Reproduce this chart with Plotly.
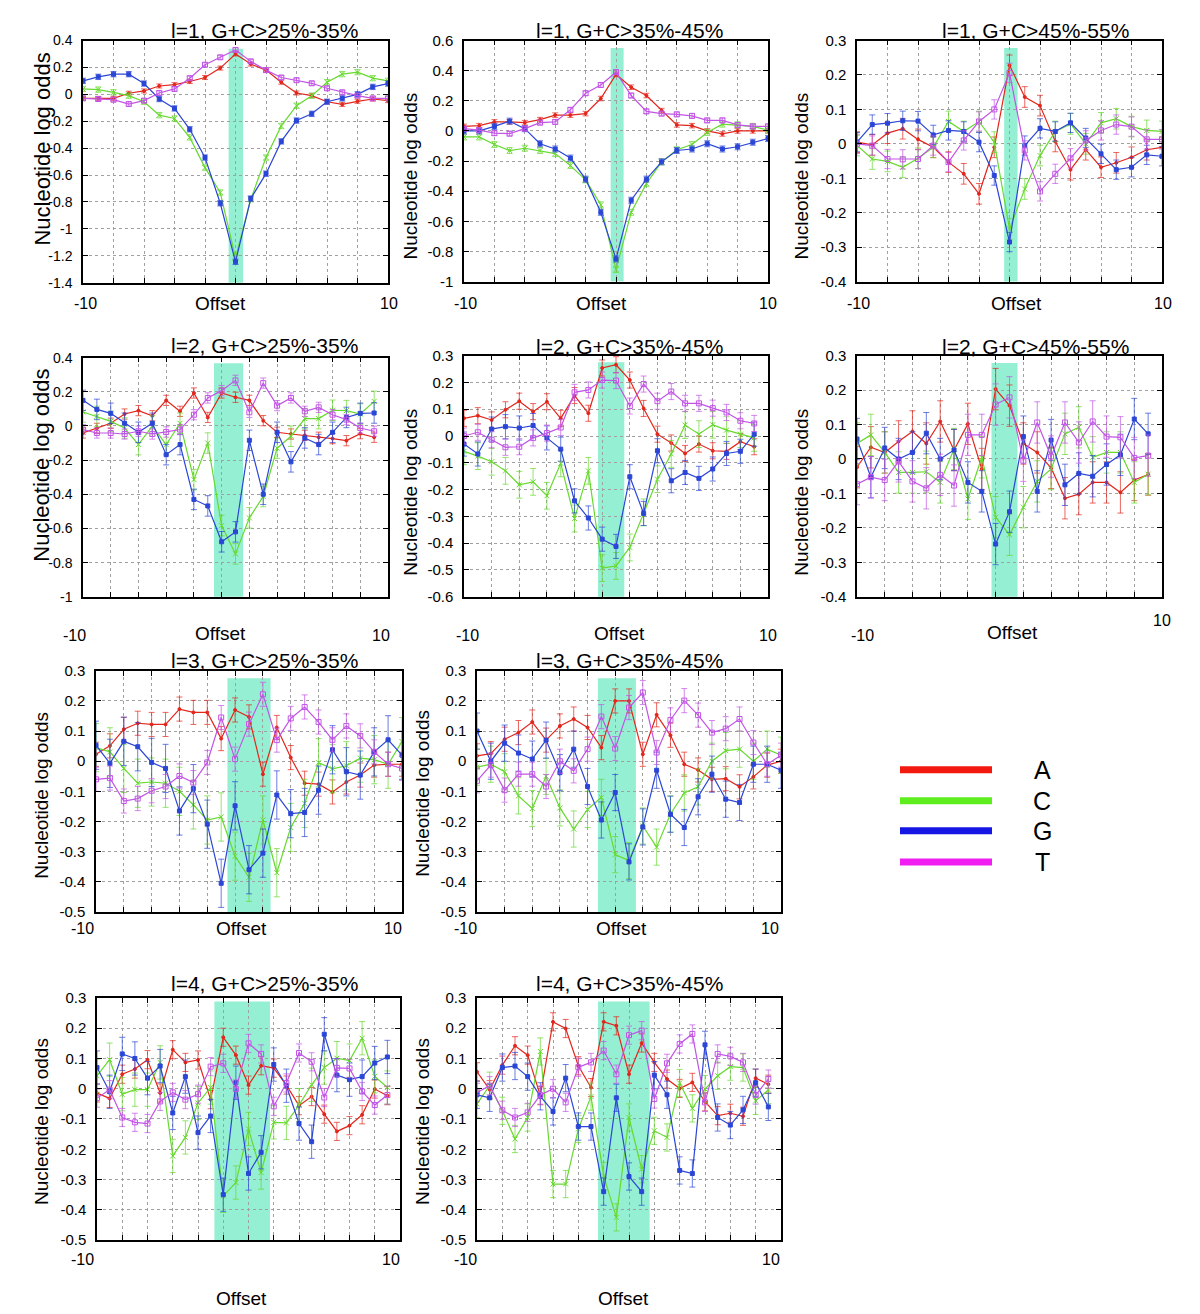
import plotly.graph_objects as go

W, H = 1200, 1314          # reference picture size (pixel coordinates below refer to it)
PAGE_MARGIN = 8            # default body margin of the html page
FIG_W, FIG_H = W - 2 * PAGE_MARGIN, 1322
# measured vertical mapping of the photographed page: screen_y = Y_OFF + Y_SCALE * page_y
Y_OFF, Y_SCALE = 8.6, 0.9867

BASES = ["A", "C", "G", "T"]

# ---------------- data ----------------
TITLES = ["l=1, G+C>25%-35%", "l=1, G+C>35%-45%", "l=1, G+C>45%-55%",
          "l=2, G+C>25%-35%", "l=2, G+C>35%-45%", "l=2, G+C>45%-55%",
          "l=3, G+C>25%-35%", "l=3, G+C>35%-45%",
          "l=4, G+C>25%-35%", "l=4, G+C>35%-45%"]

P1_A = [-0.03, -0.03, -0.03, 0.008, 0.025, 0.062, 0.072, 0.095, 0.125, 0.195, 0.30, 0.225, 0.18, 0.09, 0.01, -0.01, -0.055, -0.075, -0.052, -0.035, -0.047]
P1_C = [0.04, 0.035, 0.015, -0.01, -0.055, -0.155, -0.18, -0.32, -0.545, -0.73, -1.215, -0.78, -0.47, -0.235, -0.085, -0.01, 0.09, 0.15, 0.165, 0.12, 0.10]
P1_G = [0.10, 0.13, 0.15, 0.15, 0.08, -0.035, -0.105, -0.26, -0.47, -0.81, -1.245, -0.775, -0.59, -0.35, -0.195, -0.145, -0.055, -0.03, 0.0, 0.055, 0.08]
P1_T = [-0.03, -0.035, -0.04, -0.072, -0.047, 0.01, 0.04, 0.12, 0.22, 0.275, 0.33, 0.245, 0.18, 0.125, 0.105, 0.082, 0.045, 0.015, -0.01, -0.03, -0.03]
P1_ERR = [0.015, 0.02, 0.02, 0.015]

P2_A = [0.03, 0.035, 0.06, 0.06, 0.055, 0.075, 0.105, 0.105, 0.115, 0.215, 0.375, 0.29, 0.235, 0.135, 0.04, 0.035, 0.0, -0.02, 0.0, 0.0, 0.0]
P2_C = [-0.04, -0.04, -0.09, -0.13, -0.115, -0.13, -0.15, -0.23, -0.325, -0.49, -0.92, -0.54, -0.35, -0.205, -0.125, -0.09, -0.01, 0.045, 0.04, 0.03, 0.005]
P2_G = [0.0, 0.0, 0.03, 0.065, 0.015, -0.085, -0.12, -0.18, -0.32, -0.54, -0.85, -0.46, -0.32, -0.205, -0.13, -0.12, -0.085, -0.12, -0.105, -0.075, -0.05]
P2_T = [0.015, 0.005, -0.015, -0.018, 0.015, 0.055, 0.06, 0.14, 0.25, 0.305, 0.39, 0.235, 0.13, 0.115, 0.11, 0.1, 0.07, 0.07, 0.04, 0.03, 0.03]
P2_ERR = [0.015, 0.02, 0.02, 0.015]

P3_A = [0.005, -0.003, 0.031, 0.044, 0.013, -0.01, -0.053, -0.087, -0.145, -0.01, 0.228, 0.136, 0.111, 0.007, -0.075, -0.017, -0.068, -0.055, -0.039, -0.017, -0.01]
P3_C = [-0.005, -0.044, -0.051, -0.068, -0.042, -0.01, 0.065, 0.036, 0.065, 0.005, -0.247, -0.131, -0.034, 0.036, 0.058, 0.0, 0.061, 0.073, 0.05, 0.039, 0.036]
P3_G = [0.005, 0.056, 0.06, 0.067, 0.066, 0.026, 0.039, 0.036, 0.005, -0.092, -0.285, -0.005, 0.045, 0.036, 0.061, 0.017, -0.029, -0.075, -0.068, -0.032, -0.036]
P3_T = [0.0, -0.005, -0.044, -0.045, -0.044, -0.005, -0.053, 0.01, 0.065, 0.1, 0.206, -0.019, -0.138, -0.087, -0.042, 0.01, 0.039, 0.056, 0.05, 0.013, 0.013]
P3_ERR = [0.03, 0.03, 0.028, 0.028]

P4_A = [-0.041, -0.014, 0.016, 0.07, 0.09, 0.06, 0.15, 0.086, 0.193, 0.05, 0.193, 0.168, 0.15, 0.031, -0.037, -0.047, -0.055, -0.066, -0.074, -0.086, -0.045, -0.066]
P4_C = [0.082, 0.056, 0.027, -0.012, -0.109, 0.0, -0.109, 0.016, -0.314, -0.1, -0.583, -0.749, -0.538, -0.413, -0.13, -0.06, 0.043, 0.043, 0.092, 0.09, 0.07, 0.144]
P4_G = [0.15, 0.097, 0.074, 0.016, -0.037, 0.016, -0.168, -0.109, -0.43, -0.468, -0.678, -0.62, -0.084, -0.40, -0.037, -0.21, -0.07, -0.109, -0.037, 0.05, 0.074, 0.076]
P4_T = [-0.021, -0.041, -0.041, -0.047, -0.031, -0.047, -0.035, -0.021, 0.066, 0.164, 0.207, 0.267, 0.08, 0.251, 0.119, 0.164, 0.086, 0.109, 0.066, 0.037, -0.012, -0.031]
P4_ERR = [0.03, 0.06, 0.06, 0.03]

P5_A = [0.066, 0.076, 0.06, 0.098, 0.13, 0.091, 0.128, 0.066, 0.151, 0.085, 0.254, 0.266, 0.209, 0.103, 0.007, -0.026, -0.065, -0.03, -0.055, -0.057, -0.021, -0.04]
P5_C = [-0.057, -0.075, -0.096, -0.13, -0.182, -0.171, -0.223, -0.102, -0.308, -0.13, -0.493, -0.485, -0.416, -0.285, -0.161, -0.067, 0.041, 0.007, 0.042, 0.022, 0.007, -0.007]
P5_G = [-0.03, -0.067, 0.026, 0.035, 0.03, 0.039, -0.007, -0.049, -0.242, -0.306, -0.385, -0.412, -0.152, -0.289, -0.055, -0.167, -0.136, -0.158, -0.123, -0.065, -0.057, 0.007]
P5_T = [0.0, 0.014, -0.014, -0.042, -0.04, -0.007, 0.011, 0.032, 0.163, 0.172, 0.209, 0.207, 0.112, 0.194, 0.13, 0.166, 0.122, 0.122, 0.104, 0.088, 0.057, 0.047]
P5_ERR = [0.03, 0.05, 0.045, 0.03]

P6_A = [-0.024, 0.034, 0.019, 0.051, 0.08, 0.045, 0.109, 0.026, 0.102, -0.029, 0.203, 0.155, 0.045, 0.019, -0.026, -0.114, -0.102, -0.068, -0.068, -0.097, -0.061, -0.045]
P6_C = [0.045, 0.07, 0.019, -0.039, -0.039, -0.037, -0.068, 0.029, -0.116, 0.005, -0.169, -0.22, -0.14, -0.065, -0.029, 0.073, 0.092, 0.005, 0.019, 0.019, -0.068, -0.044]
P6_G = [0.058, -0.053, 0.032, 0.0, 0.019, 0.075, 0.0, 0.026, -0.068, -0.094, -0.247, -0.153, 0.065, -0.094, 0.055, -0.075, -0.042, -0.05, -0.016, 0.012, 0.116, 0.073]
P6_T = [-0.073, -0.053, -0.061, -0.007, -0.065, -0.085, -0.046, -0.077, 0.07, 0.07, 0.158, 0.179, -0.005, 0.106, 0.007, 0.106, 0.048, 0.109, 0.065, 0.063, 0.003, 0.01]
P6_ERR = [0.06, 0.06, 0.06, 0.06]

P7_A = [0.023, 0.051, 0.106, 0.126, 0.122, 0.122, 0.173, 0.162, 0.162, 0.075, 0.17, 0.147, -0.043, 0.112, 0.012, -0.073, -0.076, -0.102, -0.069, -0.046, -0.013, -0.01, -0.01]
P7_C = [0.045, 0.031, -0.024, -0.073, -0.069, -0.073, -0.1, -0.145, -0.195, -0.185, -0.315, -0.385, -0.195, -0.37, -0.22, -0.14, -0.005, -0.025, -0.015, 0.01, 0.005, -0.01, 0.065]
P7_G = [0.053, -0.007, 0.066, 0.048, -0.004, -0.024, -0.165, -0.091, -0.209, -0.405, -0.148, -0.36, -0.305, -0.112, -0.174, -0.17, -0.096, 0.038, -0.035, -0.046, 0.031, 0.071, 0.02]
P7_T = [-0.06, -0.056, -0.132, -0.124, -0.098, -0.084, -0.049, -0.071, -0.004, 0.145, 0.007, 0.123, 0.222, 0.07, 0.142, 0.18, 0.13, 0.071, 0.117, 0.084, 0.031, -0.01, -0.024]
P7_ERR = [0.04, 0.08, 0.08, 0.04]

P8_A = [0.018, 0.025, 0.073, 0.095, 0.13, 0.07, 0.117, 0.14, 0.112, 0.045, 0.2, 0.2, 0.023, 0.154, 0.086, -0.01, -0.029, -0.06, -0.058, -0.085, -0.052, -0.013, 0.0]
P8_C = [-0.02, -0.01, -0.035, -0.115, -0.157, -0.05, -0.155, -0.225, -0.16, -0.12, -0.31, -0.33, -0.215, -0.285, -0.175, -0.105, -0.085, 0.0, 0.035, 0.04, 0.0, 0.04, 0.02]
P8_G = [0.1, 0.0, 0.06, 0.027, 0.007, 0.07, -0.038, 0.04, -0.084, -0.195, -0.104, -0.334, -0.218, -0.03, -0.176, -0.22, -0.118, -0.043, -0.126, -0.137, -0.01, -0.01, -0.03]
P8_T = [-0.065, -0.013, -0.096, -0.043, -0.043, -0.084, 0.0, -0.032, 0.04, 0.148, 0.042, 0.178, 0.228, 0.029, 0.137, 0.201, 0.153, 0.095, 0.108, 0.14, 0.062, -0.01, 0.02]
P8_ERR = [0.04, 0.06, 0.06, 0.04]

P9_A = [-0.014, -0.032, 0.048, 0.065, 0.096, -0.014, 0.129, 0.087, 0.095, -0.036, 0.17, 0.111, 0.012, 0.076, 0.068, 0.012, -0.056, -0.026, -0.084, -0.141, -0.122, -0.086, -0.001, -0.023]
P9_C = [0.043, 0.096, -0.018, -0.003, -0.003, 0.087, -0.222, -0.161, -0.047, 0.004, -0.354, -0.31, -0.133, -0.277, -0.111, -0.113, -0.054, 0.013, 0.07, 0.101, 0.093, 0.167, 0.041, 0.004]
P9_G = [0.07, -0.01, 0.115, 0.1, 0.035, 0.075, -0.08, 0.04, -0.145, -0.09, -0.35, 0.02, -0.28, -0.21, 0.08, 0.01, -0.115, -0.175, 0.18, 0.045, 0.03, 0.04, 0.085, 0.105]
P9_T = [-0.031, -0.003, -0.095, -0.111, -0.115, -0.042, -0.012, -0.036, -0.018, 0.073, 0.084, -0.001, 0.15, 0.115, -0.058, 0.019, 0.118, 0.089, -0.029, 0.069, 0.067, -0.009, -0.054, -0.021]
P9_ERR = [0.03, 0.055, 0.055, 0.03]

P10_A = [0.056, -0.003, 0.078, 0.142, 0.111, -0.023, 0.221, 0.199, 0.076, 0.004, 0.221, 0.208, 0.048, 0.151, 0.087, 0.032, 0.001, 0.021, -0.043, -0.089, -0.081, -0.091, 0.035, 0.015]
P10_C = [-0.05, 0.01, -0.073, -0.166, -0.095, 0.123, -0.315, -0.315, -0.133, -0.026, -0.288, -0.425, -0.095, -0.266, -0.139, -0.161, 0.019, -0.065, -0.001, 0.043, 0.073, 0.07, -0.04, -0.004]
P10_G = [-0.02, -0.03, 0.07, 0.075, 0.04, -0.025, -0.075, 0.035, -0.125, -0.125, -0.34, -0.03, -0.29, -0.34, 0.045, -0.02, -0.27, -0.28, 0.145, -0.095, -0.12, -0.07, 0.02, -0.06]
P10_T = [-0.012, 0.01, -0.071, -0.095, -0.078, -0.021, 0.0, -0.045, 0.071, 0.087, 0.126, 0.048, 0.177, 0.192, -0.034, 0.084, 0.148, 0.181, -0.045, 0.115, 0.107, 0.087, -0.021, 0.032]
P10_ERR = [0.03, 0.045, 0.045, 0.03]

OFFSET_START = -10
X_RANGES = [[-10, 10], [-10, 10], [-10, 10], [-10, 12], [-10, 12], [-10, 12],
            [-10, 12], [-10, 12], [-10, 14], [-10, 14]]
Y_RANGES = [[-1.4, 0.4], [-1.0, 0.6], [-0.4, 0.3], [-1.0, 0.4], [-0.6, 0.3], [-0.4, 0.3],
            [-0.5, 0.3], [-0.5, 0.3], [-0.5, 0.3], [-0.5, 0.3]]
Y_STEPS = [0.2, 0.2, 0.1, 0.2, 0.1, 0.1, 0.1, 0.1, 0.1, 0.1]
X_TICK_LABELS = ["-10", "10"]
AXIS_TITLE_X = "Offset"
AXIS_TITLE_Y = "Nucleotide log odds"

SERIES = [
    (P1_A, P1_C, P1_G, P1_T, P1_ERR), (P2_A, P2_C, P2_G, P2_T, P2_ERR),
    (P3_A, P3_C, P3_G, P3_T, P3_ERR), (P4_A, P4_C, P4_G, P4_T, P4_ERR),
    (P5_A, P5_C, P5_G, P5_T, P5_ERR), (P6_A, P6_C, P6_G, P6_T, P6_ERR),
    (P7_A, P7_C, P7_G, P7_T, P7_ERR), (P8_A, P8_C, P8_G, P8_T, P8_ERR),
    (P9_A, P9_C, P9_G, P9_T, P9_ERR), (P10_A, P10_C, P10_G, P10_T, P10_ERR),
]

# ---------------- layout / style ----------------
FONT = "Liberation Sans, Arial, Helvetica, sans-serif"
LINE_COLORS = {"A": "#e3261c", "C": "#67d92f", "G": "#2b46d6", "T": "#c254e6"}
ERR_COLORS = {"A": "rgba(227,38,28,0.7)", "C": "rgba(103,217,47,0.7)",
              "G": "rgba(43,70,214,0.7)", "T": "rgba(194,84,230,0.7)"}
LEGEND_COLORS = {"A": "#f2190f", "C": "#5eee1e", "G": "#1616e4", "T": "#f01ef0"}
SYMBOLS = {"A": ("circle", 3), "C": ("x-thin", 5), "G": ("square", 4), "T": ("square-open", 5)}
BAND_COLOR = "#95efd2"

# plot boxes in reference pixels: left, right, top, bottom
BOXES = [(83, 388, 40, 282), (464, 768, 40, 281), (857, 1162, 40, 281),
         (83, 388, 357, 596), (464, 768, 355, 596), (857, 1162, 355, 596),
         (96, 402, 670, 911), (477, 781, 670, 911),
         (97, 400, 997, 1239), (477, 781, 997, 1239)]
# highlight bands (data coords): x0, x1, y0, y1
BANDS = [(-0.45, 0.5, -1.425, 0.338), (-0.35, 0.5, -1.0, 0.55), (-0.35, 0.53, -0.405, 0.278),
         (-0.55, 1.55, -1.027, 0.367), (-0.3, 1.6, -0.606, 0.275), (-0.3, 1.58, -0.405, 0.279),
         (-0.55, 2.55, -0.511, 0.275), (-1.25, 1.5, -0.508, 0.275),
         (-0.7, 3.7, -0.5, 0.288), (-0.45, 3.63, -0.5, 0.288)]
TITLE_POS = [(264, 30), (629, 30), (1035, 30), (264, 345), (629, 346), (1035, 346),
             (264, 660), (629, 660), (264, 983), (629, 983)]
YLAB_POS = [(43, 149, 22), (411, 176, 19), (802, 176, 19), (42, 465, 22), (411, 492, 19),
            (802, 492, 19), (42, 795, 19), (423, 793, 19), (42, 1121, 19), (423, 1121, 19)]
XLAB_POS = [(220, 303), (601, 303), (1016, 303), (220, 633), (619, 633), (1012, 632),
            (241, 928), (621, 928), (241, 1297), (623, 1297)]
XTICK_POS = [((85, 303), (389, 303)), ((465, 303), (768, 303)), ((858, 303), (1163, 303)),
             ((74, 635), (381, 635)), ((468, 635), (768, 635)), ((862, 635), (1162, 620)),
             ((82, 928), (393, 928)), ((465, 928), (770, 928)),
             ((82, 1258), (391, 1258)), ((465, 1258), (771, 1258))]
YTICK_FONT = [14, 15, 15, 14, 15, 15, 15, 15, 15, 15]


def px(x):
    return (x - PAGE_MARGIN) / FIG_W


def py(y):
    page_y = (y - Y_OFF) / Y_SCALE
    return 1 - (page_y - PAGE_MARGIN) / FIG_H


fig = go.Figure()
annotations = []
shapes = []
layout = {}

for k, (a, c, g, t, err) in enumerate(SERIES):
    idx = k + 1
    xname = "x" if idx == 1 else f"x{idx}"
    yname = "y" if idx == 1 else f"y{idx}"
    vals = {"A": a, "C": c, "G": g, "T": t}
    for j, b in enumerate(BASES):
        v = vals[b]
        offsets = list(range(OFFSET_START, OFFSET_START + len(v)))
        sym, size = SYMBOLS[b]
        fig.add_trace(go.Scatter(
            x=offsets, y=v, mode="lines+markers", name=b, showlegend=False,
            xaxis=xname, yaxis=yname,
            line=dict(color=LINE_COLORS[b], width=1.2),
            marker=dict(symbol=sym, size=size, color=LINE_COLORS[b],
                        line=dict(color=LINE_COLORS[b], width=1)),
            error_y=dict(type="data", array=[err[j]] * len(v), color=ERR_COLORS[b],
                         thickness=1, width=3),
        ))

    L, R, T, B = BOXES[k]
    xr = X_RANGES[k]
    yr = Y_RANGES[k]
    step = Y_STEPS[k]
    nt = int(round((yr[1] - yr[0]) / step))
    yt = [round(yr[0] + i * step, 3) for i in range(nt + 1)]
    ytxt = [f"{v:g}" for v in yt]
    xt = list(range(xr[0], xr[1] + 1, 2))

    layout["xaxis" if idx == 1 else f"xaxis{idx}"] = dict(
        domain=[px(L), px(R)], anchor=yname, range=xr, tickvals=xt,
        showticklabels=False, ticks="inside", ticklen=5, tickcolor="black",
        showline=True, linecolor="black", linewidth=1.5, mirror="ticks",
        showgrid=True, gridcolor="#a0a0a0", griddash="dot", gridwidth=1,
        zeroline=False, fixedrange=True)
    layout["yaxis" if idx == 1 else f"yaxis{idx}"] = dict(
        domain=[py(B), py(T)], anchor=xname, range=yr, tickvals=yt, ticktext=ytxt,
        ticks="inside", ticklen=5, tickcolor="black",
        showline=True, linecolor="black", linewidth=1.5, mirror="ticks",
        showgrid=True, gridcolor="#a0a0a0", griddash="dot", gridwidth=1,
        zeroline=False, ticklabelstandoff=6,
        tickfont=dict(family=FONT, size=YTICK_FONT[k], color="black"), fixedrange=True)

    bx0, bx1, by0, by1 = BANDS[k]
    shapes.append(dict(type="rect", xref=xname, yref=yname, x0=bx0, x1=bx1, y0=by0, y1=by1,
                       fillcolor=BAND_COLOR, line=dict(width=0), layer="below"))

    tx, ty = TITLE_POS[k]
    annotations.append(dict(text=TITLES[k], x=px(tx), y=py(ty), xref="paper", yref="paper",
                            showarrow=False, xanchor="center", yanchor="middle",
                            font=dict(family=FONT, size=21, color="black")))
    lx, ly, ls = YLAB_POS[k]
    annotations.append(dict(text=AXIS_TITLE_Y, x=px(lx), y=py(ly), xref="paper", yref="paper",
                            showarrow=False, textangle=-90, xanchor="center", yanchor="middle",
                            font=dict(family=FONT, size=ls, color="black")))
    ox, oy = XLAB_POS[k]
    annotations.append(dict(text=AXIS_TITLE_X, x=px(ox), y=py(oy), xref="paper", yref="paper",
                            showarrow=False, xanchor="center", yanchor="middle",
                            font=dict(family=FONT, size=19, color="black")))
    for lbl, (qx, qy) in zip(X_TICK_LABELS, XTICK_POS[k]):
        annotations.append(dict(text=lbl, x=px(qx), y=py(qy), xref="paper", yref="paper",
                                showarrow=False, xanchor="center", yanchor="middle",
                                font=dict(family=FONT, size=16, color="black")))

# legend (drawn manually: long coloured bars with letters to the right)
LEG_Y = [769, 800, 830, 861]
for b, ly in zip(BASES, LEG_Y):
    shapes.append(dict(type="line", xref="paper", yref="paper", x0=px(900), x1=px(992),
                       y0=py(ly), y1=py(ly), line=dict(color=LEGEND_COLORS[b], width=7)))
    annotations.append(dict(text=b, x=px(1042), y=py(ly), xref="paper", yref="paper",
                            showarrow=False, xanchor="center", yanchor="middle",
                            font=dict(family=FONT, size=25, color="black")))

fig.update_layout(
    width=FIG_W, height=FIG_H, margin=dict(l=0, r=0, t=0, b=0),
    paper_bgcolor="white", plot_bgcolor="white", showlegend=False,
    annotations=annotations, shapes=shapes, **layout)

fig.write_html("out.html")
